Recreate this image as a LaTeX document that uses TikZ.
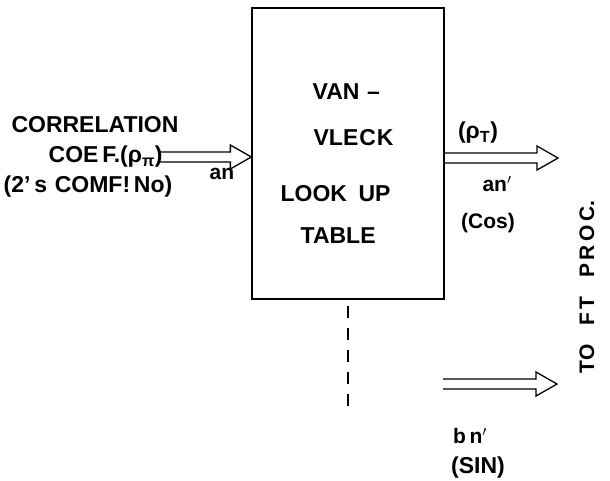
\documentclass[tikz,border=0pt]{standalone}
\usepackage{fontspec}
\setmainfont{Liberation Sans}
\usetikzlibrary{calc}

\tikzset{
  lbl/.style={inner sep=0pt, font=\bfseries\fontsize{23}{27}\selectfont},
  sml/.style={inner sep=0pt, font=\bfseries\fontsize{21}{25}\selectfont},
  hollow/.style={line width=1.3pt, line join=miter,
    to path={let \p1=(\tikztostart), \p2=(\tikztotarget) in
      (\x1,\y1+5pt) -- (\x2-21pt,\y1+5pt) -- (\x2-21pt,\y1+12pt) -- (\x2,\y1)
      -- (\x2-21pt,\y1-12pt) -- (\x2-21pt,\y1-5pt) -- (\x1,\y1-5pt)}}
}

\begin{document}
\begin{tikzpicture}[x=1pt, y=-1pt, line width=1.3pt]
  \useasboundingbox (0,0) rectangle (610,480);
  % look up table
  \node[draw, minimum width=192pt, minimum height=291pt, inner sep=0pt] (lut) at (348,153.5) {};
  \node[lbl, anchor=west] (van) at (312,92) {VAN\,\,--};
  \node[lbl, anchor=west] (vleck) at (313,138) {VLE\kern1ptC\kern1ptK};
  \node[lbl, anchor=west] (look) at (280,194) {LOOK\,\,\,UP};
  \node[lbl, anchor=west] (table) at (300,236) {TABLE};
  % input side
  \node[lbl] (corr) at (95,125) {CORRELATION};
  \node[lbl, anchor=west] (coef) at (48,157) {COE\,F.(ρ\textsubscript{π})};
  \node[lbl] (comp) at (88,187) {(2'\,s\,\,COMF!\,No)};
  \node[sml] (an) at (222,174) {an};
  \coordinate (cin) at (158,157);
  \draw[hollow] (cin) to (cin -| lut.west);
  % cos output
  \coordinate (cout) at (558,158);
  \draw[hollow] (cout -| lut.east) to (cout);
  \node[lbl] (rhot) at (478,133) {(ρ\textsubscript{T})};
  \node[sml] (anp) at (497,184) {an$^{\prime}$};
  \node[sml] (cos) at (488,223) {(Cos)};
  % sin output
  \coordinate (sinend) at (348,407);
  \draw[dashed, dash pattern=on 12pt off 10pt] ([yshift=-6pt]lut.south) -- (sinend);
  \coordinate (sa) at (443,384);
  \coordinate (sb) at (557,384);
  \draw[hollow] (sa) to (sb);
  \node[sml] (bnp) at (470,436) {b\,n$^{\prime}$};
  \node[lbl] (sin) at (478,468) {(SIN)};
  % destination
  \node[sml, rotate=90] (ftproc) at (587,287) {TO\hspace{0.9em}F\,T\hspace{0.9em}P\,R\,O\,C.};
\end{tikzpicture}
\end{document}
